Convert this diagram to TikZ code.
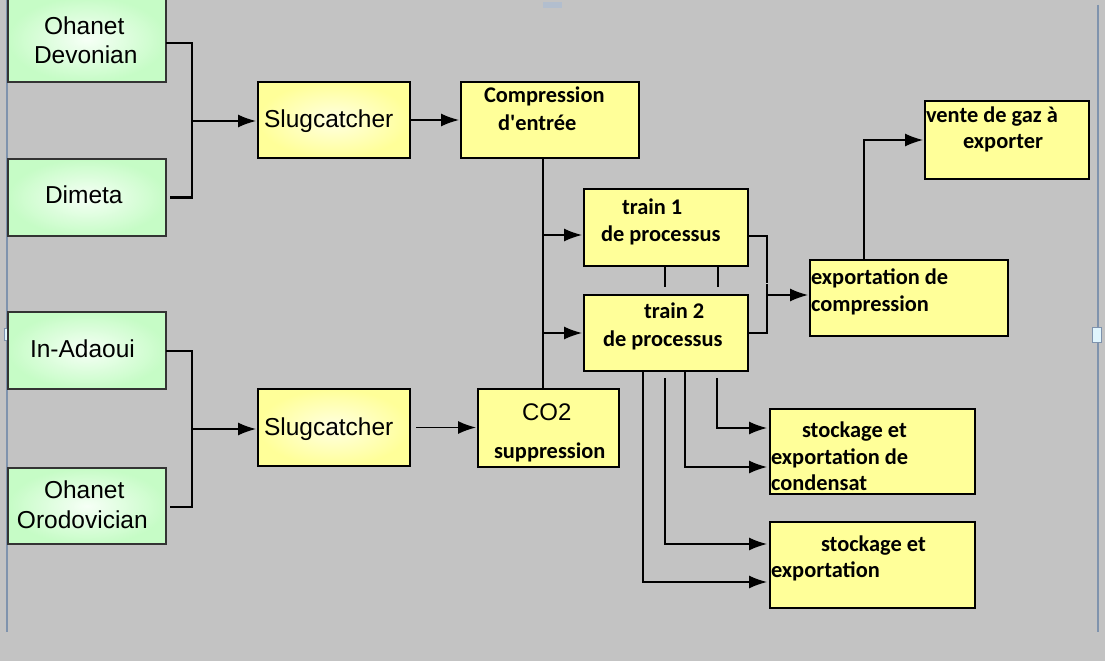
\documentclass[tikz,border=0pt]{standalone}
\usepackage{fontspec}
\usetikzlibrary{arrows.meta}
\newfontfamily\arf{Liberation Sans}
\newfontfamily\caf{Carlito}
\definecolor{bg}{HTML}{C3C3C3}
\definecolor{gedge}{HTML}{C6FCC6}
\definecolor{gin}{HTML}{F6FFF6}
\definecolor{yel}{HTML}{FFFF99}
\definecolor{yin}{HTML}{FFFFE2}
\definecolor{framec}{HTML}{7F93AD}
\newcommand\fA{\arf\fontsize{24.5}{28}\selectfont}
\newcommand\fC{\caf\bfseries\fontsize{22.4}{27}\selectfont}
\newcommand\Ln[3]{\setlength\baselineskip{#1pt}\mbox{\hspace*{#2pt}#3}\par}
\newcommand\Bx[3]{\parbox[c][#2pt][t]{#1pt}{\lineskiplimit=-100pt\lineskip=0pt\relax #3}}
\tikzset{
  gbox/.style={draw=black!80, line width=1.3pt, inner sep=0pt, outer sep=0pt, inner color=gin, outer color=gedge},
  ybox/.style={draw=black, line width=1.6pt, inner sep=0pt, outer sep=0pt, inner color=yin, outer color=yel},
  fbox/.style={draw=black, line width=1.6pt, inner sep=0pt, outer sep=0pt, fill=yel},
  arr/.style={line width=1.5pt, -{Latex[length=18pt,width=13pt]}, shorten >=2pt},
  brk/.style={line width=2.6pt},
  busl/.style={line width=2pt},
  thinl/.style={line width=1.4pt}
}
\begin{document}
\begin{tikzpicture}[x=1pt,y=-1pt]
\useasboundingbox (0,0) rectangle (1105,661);
\clip (0,0) rectangle (1105,661);
\fill[bg] (0,0) rectangle (1105,661);
% frame lines and handles
\draw[framec, line width=1.5pt] (7,0) -- (7,632);
\draw[framec, line width=1.5pt] (1098,5) -- (1098,632);
\draw[framec, fill=cyan!12, line width=0.8pt] (4,328) rectangle (11,340);
\draw[framec, fill=cyan!12, line width=0.8pt] (1092,327) rectangle (1101,342);
\fill[framec!60] (543,2) rectangle (562,8);
% sources
\node[gbox] (od) at (87,39.5) {\Bx{158}{85}{\Ln{0}{36}{\fA\rule{0pt}{38pt}Ohanet}\Ln{28}{26}{\fA Devonian}}};
\node[gbox] (dm) at (87,197.5) {\Bx{158}{77}{\Ln{0}{37}{\fA\rule{0pt}{44pt}Dimeta}}};
\node[gbox] (ia) at (87,350.5) {\Bx{158}{77}{\Ln{0}{22}{\fA\rule{0pt}{45pt}In-Adaoui}}};
\node[gbox] (oo) at (87,506) {\Bx{158}{76}{\Ln{0}{36}{\fA\rule{0pt}{30pt}Ohanet}\Ln{30}{9}{\fA Orodovician}}};
% slugcatchers
\node[ybox] (s1) at (334,120) {\Bx{152}{76}{\Ln{0}{6}{\fA\rule{0pt}{45pt}Slugcatcher}}};
\node[ybox] (s2) at (334,427.5) {\Bx{152}{77}{\Ln{0}{6}{\fA\rule{0pt}{46pt}Slugcatcher}}};
% process boxes
\node[fbox] (ce) at (550,120) {\Bx{178}{76}{\Ln{0}{23}{\fC\rule{0pt}{20pt}Compression}\Ln{28}{37}{\fC d'entrée}}};
\node[fbox] (co2) at (548.5,428) {\Bx{141}{78}{\Ln{0}{44}{\arf\fontsize{24}{28}\selectfont\rule{0pt}{31pt}CO2}\Ln{38}{16}{\fC suppression}}};
\node[fbox] (t1) at (666,227.5) {\Bx{164}{77}{\Ln{0}{38}{\fC\rule{0pt}{25pt}train 1}\Ln{27}{17}{\fC de processus}}};
\node[fbox] (t2) at (666,333) {\Bx{164}{76}{\Ln{0}{60}{\fC\rule{0pt}{23pt}train 2}\Ln{28}{19}{\fC de processus}}};
\node[fbox] (ex) at (909,298) {\Bx{198}{76}{\Ln{0}{1}{\fC\rule{0pt}{24pt}exportation de}\Ln{27}{1}{\fC compression}}};
\node[fbox] (vt) at (1007,140) {\Bx{164}{78}{\Ln{0}{1}{\fC\rule{0pt}{21pt}vente de gaz à}\Ln{26}{38}{\fC exporter}}};
\node[fbox] (sc) at (872.5,451.5) {\Bx{205}{85}{\Ln{0}{32}{\fC\rule{0pt}{28pt}stockage et}\Ln{27}{1}{\fC exportation de}\Ln{26}{1}{\fC condensat}}};
\node[fbox] (se) at (872.5,565) {\Bx{205}{86}{\Ln{0}{51}{\fC\rule{0pt}{29pt}stockage et}\Ln{26}{1}{\fC exportation}}};
\draw[line width=2.6pt] (vt.north west) -- (vt.south west);
% helper coordinates
\coordinate (j1) at (192,121);
\coordinate (j2) at (192,429);
\coordinate (bus) at (543,0);
\coordinate (m) at (767,295);
\coordinate (t1in) at ([yshift=-7.5pt]t1.west);
\coordinate (t1out) at ([yshift=-8.5pt]t1.east);
\coordinate (exup) at ([xshift=-45pt]ex.north);
\coordinate (b1) at ([xshift=-23pt]t2.south);
\coordinate (b2) at ([xshift=-1pt,yshift=-7pt]t2.south);
\coordinate (b3) at ([xshift=19pt]t2.south);
\coordinate (b4) at ([xshift=51pt,yshift=-7pt]t2.south);
% source brackets
\draw[brk] (od.east |- 0,43) -- (j1 |- 0,43) -- (j1 |- dm.east) -- ([xshift=4pt]dm.east);
\draw[arr] (j1) -- (j1 -| s1.west);
\draw[brk] (ia.east |- 0,351) -- (j2 |- 0,351) -- (j2 |- 0,507) -- ([xshift=4pt]oo.east |- 0,507);
\draw[arr] (j2) -- (j2 -| s2.west);
% main flow
\draw[arr] (s1.east) -- (ce.west);
\draw[arr] ([xshift=6pt]s2.east) -- (s2.east -| co2.west);
\draw[busl] (ce.south -| bus) -- (co2.north -| bus);
\draw[arr] (t1in -| bus) -- (t1in);
\draw[arr] (t2.west -| bus) -- (t2.west);
\draw[thinl] ([xshift=-1pt]t1.south) -- ++(0,21);
\draw[thinl] ([xshift=52pt]t1.south) -- ++(0,21);
\draw[thinl] (t1out) -| ([yshift=12pt]m);
\draw[brk] (t2.east) -| ([yshift=11pt]m);
\draw[arr] (m) -- (m -| ex.west);
\draw[arr] (exup) |- (vt.west);
\draw[arr, shorten >=3pt] (b4) |- ([yshift=23.5pt]sc.west);
\draw[arr, shorten >=3pt] (b3) |- ([yshift=-15.5pt]sc.west);
\draw[arr, shorten >=3pt] (b2) |- ([yshift=21pt]se.west);
\draw[arr, shorten >=3pt] (b1) |- ([yshift=-17pt]se.west);
\end{tikzpicture}
\end{document}
